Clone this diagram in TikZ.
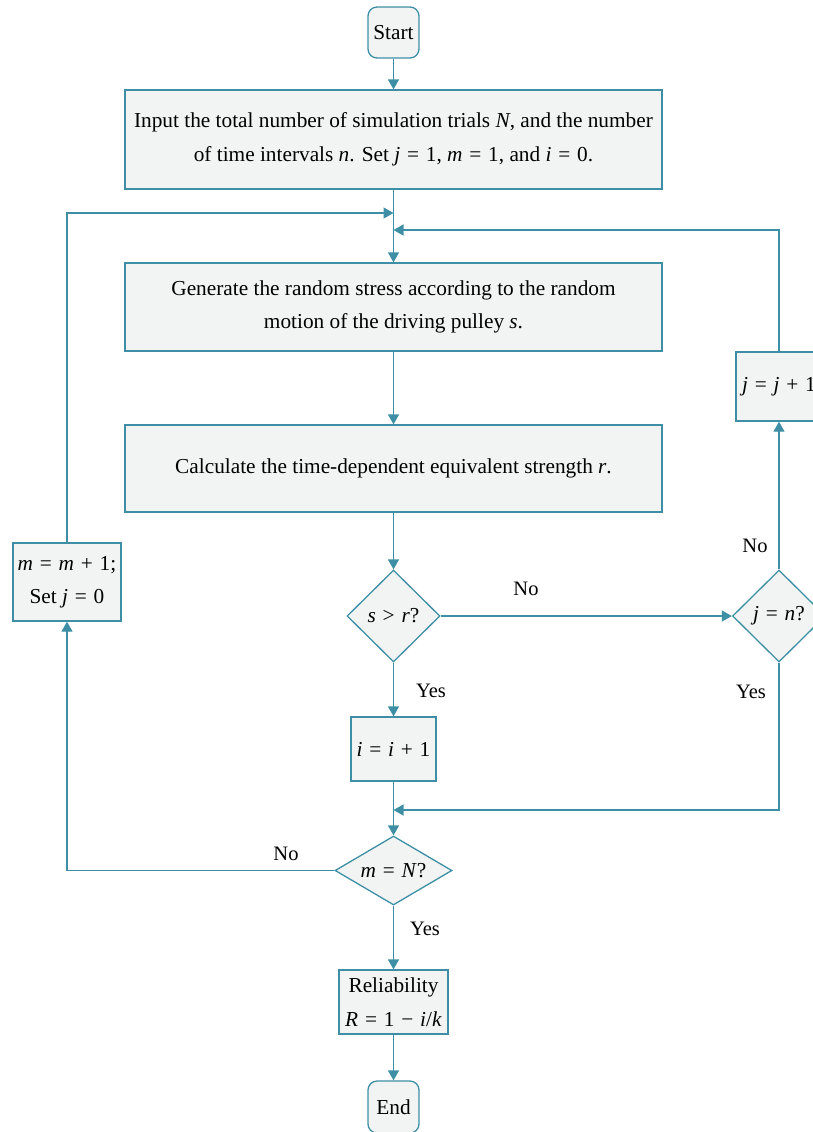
\documentclass[tikz,border=0pt]{standalone}
\usepackage{fontspec}
\setmainfont{Liberation Serif}
\usetikzlibrary{arrows.meta,shapes.geometric}
\definecolor{edgecol}{RGB}{62,143,165}
\definecolor{boxfill}{RGB}{242,244,244}
\newcommand{\req}[1]{\hspace{0.32em}#1\hspace{0.32em}}
\begin{document}
\begin{tikzpicture}[x=1pt,y=-1pt,
  every node/.style={font=\fontsize{21.3}{33.5}\selectfont},
  procbox/.style={draw=edgecol,fill=boxfill,line width=1.3pt,rectangle,inner sep=0pt,align=center},
  termbox/.style={procbox,rounded corners=9pt},
  decbox/.style={draw=edgecol,fill=boxfill,line width=1.3pt,diamond,inner sep=0pt},
  flow/.style={draw=edgecol,line width=1.3pt,-{Triangle[length=10pt,width=11pt]}},
  lbl/.style={inner sep=0pt,font=\fontsize{20.5}{24}\selectfont}]
\useasboundingbox (0,0) rectangle (813,1132);
\clip (0,0) rectangle (813,1132);

\node[termbox,minimum width=51pt,minimum height=51pt] (start) at (393.5,32.5) {Start};
\node[procbox,minimum width=537pt,minimum height=99pt] (input) at (393.5,139.5)
  {Input the total number of simulation trials \textit{N}, and the number\\ of time intervals \textit{n}. Set \textit{j}\req{=}1, \textit{m}\req{=}1, and \textit{i}\req{=}0.};
\node[procbox,minimum width=537pt,minimum height=88pt] (gen) at (393.5,307)
  {Generate the random stress according to the random\\ motion of the driving pulley \textit{s}.};
\node[procbox,minimum width=537pt,minimum height=87pt] (calc) at (393.5,468.5)
  {Calculate the time-dependent equivalent strength \textit{r}.};
\node[decbox,minimum width=93pt,minimum height=92pt] (sr) at (393.5,616) {\textit{s}\req{>}\textit{r}?};
\node[decbox,minimum width=93pt,minimum height=92pt] (jn) at (779,616) {\textit{j}\req{=}\textit{n}?};
\node[procbox,minimum width=86pt,minimum height=69pt] (jinc) at (779,386.5) {\textit{j}\req{=}\textit{j}\req{+}1};
\node[procbox,minimum width=85pt,minimum height=64pt] (iinc) at (393.5,749) {\textit{i}\req{=}\textit{i}\req{+}1};
\node[decbox,minimum width=117pt,minimum height=69pt,shape aspect=1.7] (mN) at (393.5,870.5) {\textit{m}\req{=}\textit{N}?};
\node[procbox,minimum width=108pt,minimum height=78pt] (minc) at (67,582) {\textit{m}\req{=}\textit{m}\req{+}1;\\ Set \textit{j}\req{=}0};
\node[procbox,minimum width=109pt,minimum height=64pt] (rel) at (393.5,1002) {Reliability\\ \textit{R}\req{=}1\req{−}\textit{i}/\textit{k}};
\node[termbox,minimum width=51pt,minimum height=52pt] (end) at (393.5,1107) {End};

\coordinate (jL) at (393.5,213);
\coordinate (jR) at (393.5,230);
\coordinate (jB) at (393.5,810);

\node[lbl] (noA) at (526,589) {No};
\node[lbl] (noB) at (755,546) {No};
\node[lbl] (yesA) at (431,691) {Yes};
\node[lbl] (yesB) at (751,692) {Yes};
\node[lbl] (noC) at (286,854) {No};
\node[lbl] (yesC) at (425,929) {Yes};

\draw[flow] (start) -- (input);
\draw[flow] (input) -- (gen);
\draw[flow] (minc.north) -- (minc.north |- jL) -- (jL);
\draw[flow] (jinc.north) -- (jinc.north |- jR) -- (jR);
\draw[flow] (gen) -- (calc);
\draw[flow] (calc) -- (sr);
\draw[flow] (sr.east) -- (jn.west);
\draw[flow] (jn.north) -- (jinc.south);
\draw[flow] (sr.south) -- (iinc.north);
\draw[flow] (iinc.south) -- (mN.north);
\draw[flow] (jn.south) -- (jn.south |- jB) -- (jB);
\draw[flow] (mN.west) -- (mN.west -| minc.south) -- (minc.south);
\draw[flow] (mN.south) -- (rel.north);
\draw[flow] (rel.south) -- (end.north);
\end{tikzpicture}
\end{document}
